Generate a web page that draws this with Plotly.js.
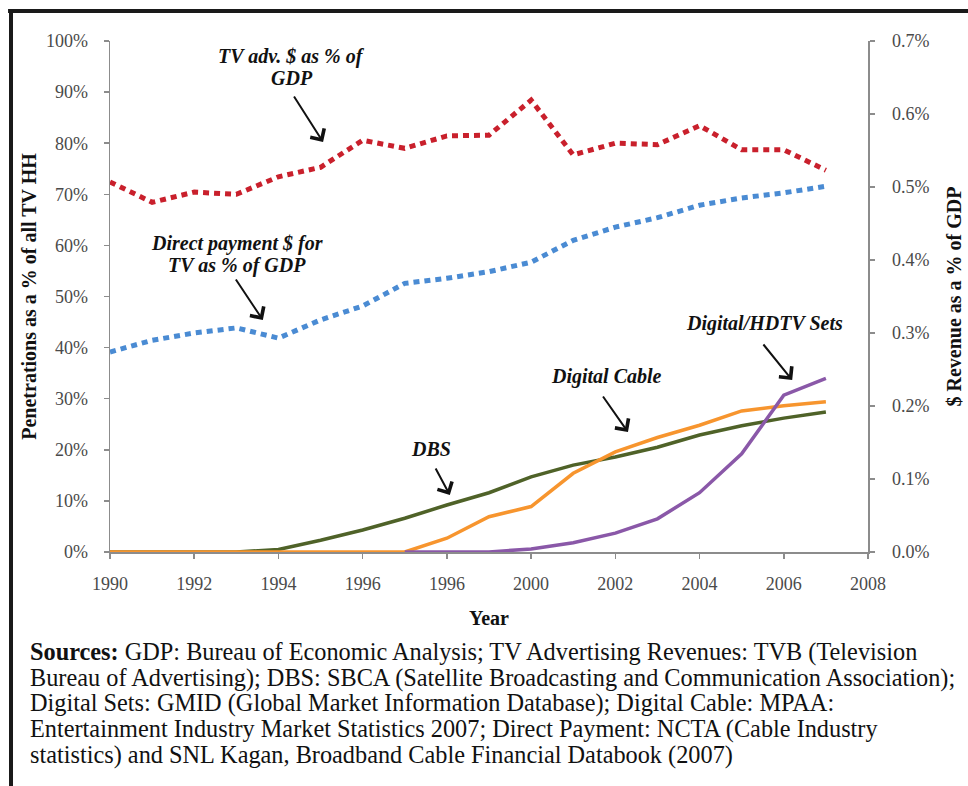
<!DOCTYPE html>
<html>
<head>
<meta charset="utf-8">
<script src="https://cdn.plot.ly/plotly-3.0.1.min.js"></script>
<style>
  html, body { margin: 0; padding: 0; background: #fff; }
  #chart { width: 968px; height: 786px; }
</style>
</head>
<body>
<div id="chart"></div>
<script>
// ---- Data ----
const years = [1990,1991,1992,1993,1994,1995,1996,1997,1998,1999,2000,2001,2002,2003,2004,2005,2006,2007];
const hdtvYears = [1997,1998,1999,2000,2001,2002,2003,2004,2005,2006,2007];

// Right axis: $ revenue as % of GDP
const tvAdvPctGDP = [0.507,0.479,0.493,0.490,0.514,0.527,0.564,0.553,0.570,0.571,0.619,0.544,0.560,0.558,0.584,0.551,0.551,0.523];
const directPayPctGDP = [0.274,0.290,0.300,0.307,0.293,0.318,0.337,0.368,0.375,0.384,0.397,0.427,0.445,0.458,0.475,0.485,0.492,0.501];

// Left axis: penetration as % of all TV HH
const dbs = [0,0,0,0,0.5,2.3,4.3,6.6,9.2,11.6,14.7,17.0,18.6,20.5,22.9,24.7,26.2,27.4];
const digitalCable = [0,0,0,0,0,0,0,0,2.7,6.9,8.9,15.4,19.6,22.4,24.8,27.6,28.6,29.4];
const digitalHDTV = [0,0,0,0.6,1.8,3.7,6.5,11.6,19.2,30.7,34.0];

// Tick labels (as printed in the reference)
const xTickVals = [1990,1992,1994,1996,1998,2000,2002,2004,2006,2008];
const xTickText = ["1990","1992","1994","1996","1996","2000","2002","2004","2006","2008"];
const leftTickVals = [0,10,20,30,40,50,60,70,80,90,100];
const leftTickText = ["0%","10%","20%","30%","40%","50%","60%","70%","80%","90%","100%"];
const rightTickVals = [0,0.1,0.2,0.3,0.4,0.5,0.6,0.7];
const rightTickText = ["0.0%","0.1%","0.2%","0.3%","0.4%","0.5%","0.6%","0.7%"];

const sourceLines = [
  "<b>Sources:</b> GDP: Bureau of Economic Analysis; TV Advertising Revenues: TVB (Television",
  "Bureau of Advertising); DBS: SBCA (Satellite Broadcasting and Communication Association);",
  "Digital Sets: GMID (Global Market Information Database); Digital Cable: MPAA:",
  "Entertainment Industry Market Statistics 2007; Direct Payment: NCTA (Cable Industry",
  "statistics) and SNL Kagan, Broadband Cable Financial Databook (2007)"
];

// ---- Chart ----
const FONT = 'Liberation Serif, Times New Roman, DejaVu Serif, serif';

const traces = [
  { x: years, y: dbs, type: 'scatter', mode: 'lines', name: 'DBS',
    line: { color: '#4F6228', width: 3.5 }, yaxis: 'y' },
  { x: years, y: digitalCable, type: 'scatter', mode: 'lines', name: 'Digital Cable',
    line: { color: '#F7952E', width: 3.5 }, yaxis: 'y' },
  { x: hdtvYears, y: digitalHDTV, type: 'scatter', mode: 'lines', name: 'Digital/HDTV Sets',
    line: { color: '#8A58A8', width: 3.5 }, yaxis: 'y' },
  { x: years, y: tvAdvPctGDP, type: 'scatter', mode: 'lines', name: 'TV adv. $ as % of GDP',
    line: { color: '#C9202C', width: 5, dash: '6px,5px' }, yaxis: 'y2' },
  { x: years, y: directPayPctGDP, type: 'scatter', mode: 'lines', name: 'Direct payment $ for TV as % of GDP',
    line: { color: '#4A8BD3', width: 5, dash: '6px,5px' }, yaxis: 'y2' }
];

const labelFont = { family: FONT, size: 20, color: '#111', weight: 'bold', style: 'italic' };
function label(text, x, y) {
  return { text: text, x: x, y: y, xref: 'x', yref: 'y', showarrow: false,
           xanchor: 'center', yanchor: 'middle', font: labelFont };
}
function arrow(x, y, ax, ay) {
  return { text: '', x: x, y: y, xref: 'x', yref: 'y', ax: ax, ay: ay,
           showarrow: true, arrowhead: 4, arrowsize: 1.6, arrowwidth: 2, arrowcolor: '#111', standoff: 0 };
}

const annotations = [
  label('TV adv. $ as % of', 1994.32, 97.06),
  label('GDP', 1994.32, 92.76),
  arrow(1995.06, 80.23, -30, -47),
  label('Direct payment $ for', 1993.02, 60.47),
  label('TV as % of GDP', 1993.02, 56.16),
  arrow(1993.63, 45.40, -28, -42),
  label('DBS', 1997.62, 20.16),
  arrow(1998.07, 11.15, -15, -28),
  label('Digital Cable', 2001.78, 34.25),
  arrow(2002.30, 23.48, -26, -37),
  label('Digital/HDTV Sets', 2005.55, 44.62),
  arrow(2006.20, 33.66, -30, -37)
];

const srcY = [-0.1957, -0.2466, -0.2955, -0.3464, -0.3973];
sourceLines.forEach(function (t, i) {
  annotations.push({ text: t, xref: 'paper', yref: 'paper', x: -0.1082, y: srcY[i],
    xanchor: 'left', yanchor: 'middle', showarrow: false, align: 'left',
    font: { family: FONT, size: 24.3, color: '#111', weight: 'normal', style: 'normal' } });
});

const axisCommon = {
  showgrid: false, zeroline: false, showline: true, linecolor: '#8c8c8c', linewidth: 1.5,
  ticks: 'outside', ticklen: 5, tickcolor: '#8c8c8c', tickwidth: 1.5,
  tickmode: 'array',
  tickfont: { family: FONT, size: 18, color: '#4a4a4a', weight: 'normal', style: 'normal' }
};

const layout = {
  width: 968, height: 786,
  margin: { l: 110, r: 100, t: 41, b: 234 },
  paper_bgcolor: '#fff', plot_bgcolor: '#fff',
  showlegend: false,
  font: { family: FONT },
  xaxis: Object.assign({}, axisCommon, {
    range: [1990, 2008], tickvals: xTickVals, ticktext: xTickText,
    ticklabelstandoff: 10,
    title: { text: 'Year', font: { family: FONT, size: 20, color: '#111', weight: 'bold' }, standoff: 18 }
  }),
  yaxis: Object.assign({}, axisCommon, {
    range: [0, 100], tickvals: leftTickVals, ticktext: leftTickText,
    ticklabelstandoff: 12,
    title: { text: 'Penetrations as a % of all TV HH', font: { family: FONT, size: 20, color: '#111', weight: 'bold' }, standoff: 4 }
  }),
  yaxis2: Object.assign({}, axisCommon, {
    range: [0, 0.7], tickvals: rightTickVals, ticktext: rightTickText,
    overlaying: 'y', side: 'right', ticklabelstandoff: 14,
    title: { text: '$ Revenue as a % of GDP', font: { family: FONT, size: 20, color: '#111', weight: 'bold' }, standoff: 18 }
  }),
  annotations: annotations,
  shapes: [
    { type: 'line', xref: 'paper', yref: 'paper', x0: -0.1345, x1: 1.14, y0: 1.0587, y1: 1.0587,
      line: { color: '#1a1a1a', width: 4 } },
    { type: 'line', xref: 'paper', yref: 'paper', x0: -0.1306, x1: -0.1306, y0: 1.0626, y1: -0.47,
      line: { color: '#1a1a1a', width: 4 } }
  ]
};

Plotly.newPlot('chart', traces, layout, { displayModeBar: false, staticPlot: true });
</script>
</body>
</html>
